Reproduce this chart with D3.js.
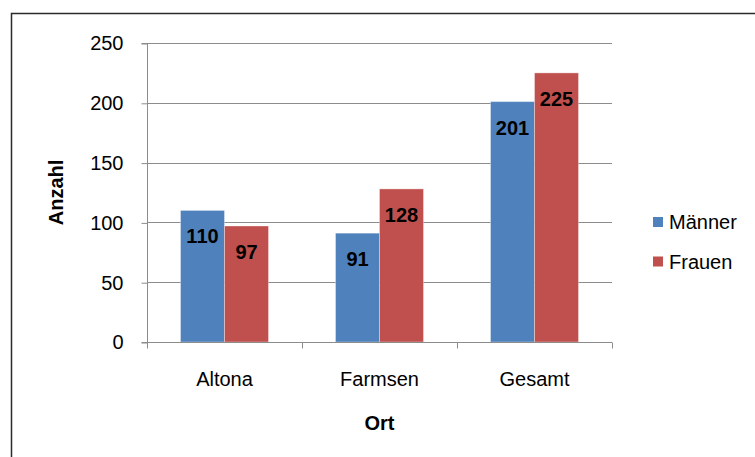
<!DOCTYPE html>
<html>
<head>
<meta charset="utf-8">
<script src="https://cdn.jsdelivr.net/npm/d3@7"></script>
<style>
  html, body { margin: 0; padding: 0; background: #fff; }
  svg { display: block; font-family: "Liberation Sans", Arial, sans-serif; }
</style>
</head>
<body>
<svg id="chart" width="755" height="457"></svg>
<script>
// Data
const categories = ["Altona", "Farmsen", "Gesamt"];
const seriesNames = ["Männer", "Frauen"];
const maenner = [110, 91, 201];
const frauen = [97, 128, 225];
const yTicks = [0, 50, 100, 150, 200, 250];

const colors = { "Männer": "#4F81BD", "Frauen": "#C0504D" };
const seriesValues = { "Männer": maenner, "Frauen": frauen };

const svg = d3.select("#chart");

// Outer frame
svg.append("rect")
  .attr("x", 11.5).attr("y", 13.5)
  .attr("width", 800).attr("height", 500)
  .attr("fill", "none").attr("stroke", "#2b2b2b").attr("stroke-width", 1.5);

const plot = { left: 147, right: 612, top: 43, bottom: 342 };

const y = d3.scaleLinear().domain([0, 250]).range([plot.bottom, plot.top]);
const x0 = d3.scaleBand().domain(categories).range([plot.left, plot.right]).padding(0);
const x1 = d3.scaleBand().domain(seriesNames)
  .range([33.5, x0.bandwidth() - 33.5]).padding(0);

// Gridlines
svg.append("g")
  .selectAll("line")
  .data(yTicks.filter(t => t > 0))
  .join("line")
  .attr("x1", plot.left).attr("x2", plot.right)
  .attr("y1", d => Math.round(y(d)) + 0.5).attr("y2", d => Math.round(y(d)) + 0.5)
  .attr("stroke", "#8c8c8c").attr("stroke-width", 1);

// Bars
const groups = svg.append("g")
  .selectAll("g")
  .data(categories)
  .join("g")
  .attr("transform", d => `translate(${x0(d)},0)`);

groups.selectAll("rect")
  .data((c, i) => seriesNames.map(s => ({ s, v: seriesValues[s][i] })))
  .join("rect")
  .attr("x", d => x1(d.s))
  .attr("y", d => y(d.v))
  .attr("width", x1.bandwidth())
  .attr("height", d => y(0) - y(d.v))
  .attr("fill", d => colors[d.s])
  .attr("stroke", "rgba(255,255,255,0.35)")
  .attr("stroke-width", 1);

// Value labels
groups.selectAll("text")
  .data((c, i) => seriesNames.map(s => ({ s, v: seriesValues[s][i] })))
  .join("text")
  .attr("x", d => x1(d.s) + x1.bandwidth() / 2)
  .attr("y", d => y(d.v) + 33)
  .attr("text-anchor", "middle")
  .attr("font-size", 20)
  .attr("font-weight", "bold")
  .attr("fill", "#000")
  .text(d => d.v);

// Y axis
const yAxis = d3.axisLeft(y).tickValues(yTicks).tickSize(6).tickPadding(18);
const yg = svg.append("g")
  .attr("transform", `translate(${plot.left + 0.5},0.5)`)
  .call(yAxis);
yg.selectAll("path, line").attr("stroke", "#8c8c8c");
yg.select(".domain").attr("d", `M-6,${plot.top}H0V${plot.bottom}H-6`);
yg.selectAll("text").attr("font-size", 20).attr("fill", "#000")
  .attr("font-family", "'Liberation Sans', Arial, sans-serif");

// X axis
const xg = svg.append("g")
  .attr("transform", `translate(0,${plot.bottom + 0.5})`);
xg.append("line")
  .attr("x1", plot.left).attr("x2", plot.right)
  .attr("stroke", "#8c8c8c");
xg.selectAll("line.tick")
  .data(categories.map(c => x0(c)).concat([plot.right]))
  .join("line")
  .attr("class", "tick")
  .attr("x1", d => Math.round(d) + 0.5).attr("x2", d => Math.round(d) + 0.5)
  .attr("y1", 0).attr("y2", 6)
  .attr("stroke", "#8c8c8c");
xg.selectAll("text")
  .data(categories)
  .join("text")
  .attr("x", d => x0(d) + x0.bandwidth() / 2)
  .attr("y", 43)
  .attr("text-anchor", "middle")
  .attr("font-size", 20)
  .attr("fill", "#000")
  .text(d => d);

// Axis titles
svg.append("text")
  .attr("x", (plot.left + plot.right) / 2)
  .attr("y", 430)
  .attr("text-anchor", "middle")
  .attr("font-size", 20)
  .attr("font-weight", "bold")
  .text("Ort");

svg.append("text")
  .attr("transform", `translate(63,${(plot.top + plot.bottom) / 2}) rotate(-90)`)
  .attr("text-anchor", "middle")
  .attr("font-size", 20)
  .attr("font-weight", "bold")
  .text("Anzahl");

// Legend
const legend = svg.append("g")
  .selectAll("g")
  .data(seriesNames)
  .join("g")
  .attr("transform", (d, i) => `translate(653,${217 + i * 39.5})`);
legend.append("rect")
  .attr("width", 10).attr("height", 10)
  .attr("fill", d => colors[d]);
legend.append("text")
  .attr("x", 16).attr("y", 12)
  .attr("font-size", 20)
  .attr("fill", "#000")
  .text(d => d);
</script>
</body>
</html>
